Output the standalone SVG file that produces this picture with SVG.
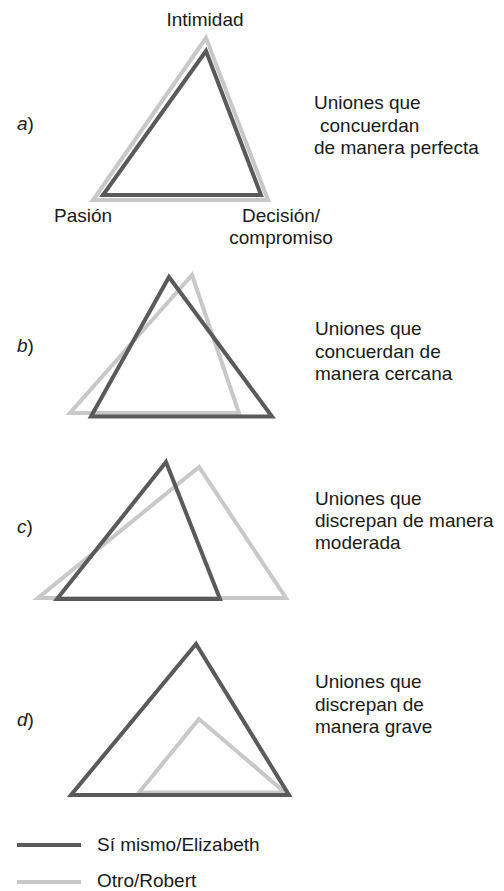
<svg xmlns="http://www.w3.org/2000/svg" width="504" height="891" viewBox="0 0 504 891">
<style>
text{font-family:"Liberation Sans",Arial,Helvetica,sans-serif;font-size:19px;fill:#1a1a1a}
.self{fill:none;stroke:#5a5a5a;stroke-width:4;stroke-linejoin:miter;stroke-miterlimit:10}
.other{fill:none;stroke:#c8c8c8;stroke-width:4;stroke-linejoin:miter;stroke-miterlimit:10}
.it{font-style:italic}
</style>
<rect width="504" height="891" fill="#ffffff"/>
<g id="panel-a">
<polygon class="other" points="206,38 93,200 268,200"/>
<polygon class="self" points="206,51 103,195 261,195"/>
<text x="205" y="26" text-anchor="middle">Intimidad</text>
<text x="54" y="222">Pasión</text>
<text x="281" y="222" text-anchor="middle">Decisión/</text>
<text x="281" y="244" text-anchor="middle">compromiso</text>
<text x="17" y="130"><tspan class="it">a</tspan>)</text>
<text x="314" y="109">Uniones que</text>
<text x="320" y="131.5">concuerdan</text>
<text x="314" y="153.5">de manera perfecta</text>
</g>
<g id="panel-b">
<polygon class="other" points="192,275 70,413 239,413"/>
<polygon class="self" points="169,277 91,416.5 272,416.5"/>
<text x="17" y="352"><tspan class="it">b</tspan>)</text>
<text x="315" y="335">Uniones que</text>
<text x="315" y="357.5">concuerdan de</text>
<text x="315" y="380">manera cercana</text>
</g>
<g id="panel-c">
<polygon class="other" points="199,467 38,598 286,598"/>
<polygon class="self" points="166,462 57,599 220,599"/>
<text x="17" y="533"><tspan class="it">c</tspan>)</text>
<text x="315" y="505">Uniones que</text>
<text x="315" y="527">discrepan de manera</text>
<text x="315" y="549">moderada</text>
</g>
<g id="panel-d">
<polygon class="other" points="199,719 139,792.5 285,792.5"/>
<polygon class="self" points="196,644 71,795 289,795"/>
<text x="17" y="726"><tspan class="it">d</tspan>)</text>
<text x="315" y="688">Uniones que</text>
<text x="315" y="710.5">discrepan de</text>
<text x="315" y="733">manera grave</text>
</g>
<g id="legend">
<line class="self" x1="17" y1="845" x2="81" y2="845"/>
<text x="97" y="851">Sí mismo/Elizabeth</text>
<line class="other" x1="17" y1="882" x2="81" y2="882"/>
<text x="97" y="887">Otro/Robert</text>
</g>
<g id="connectors"/>
</svg>
